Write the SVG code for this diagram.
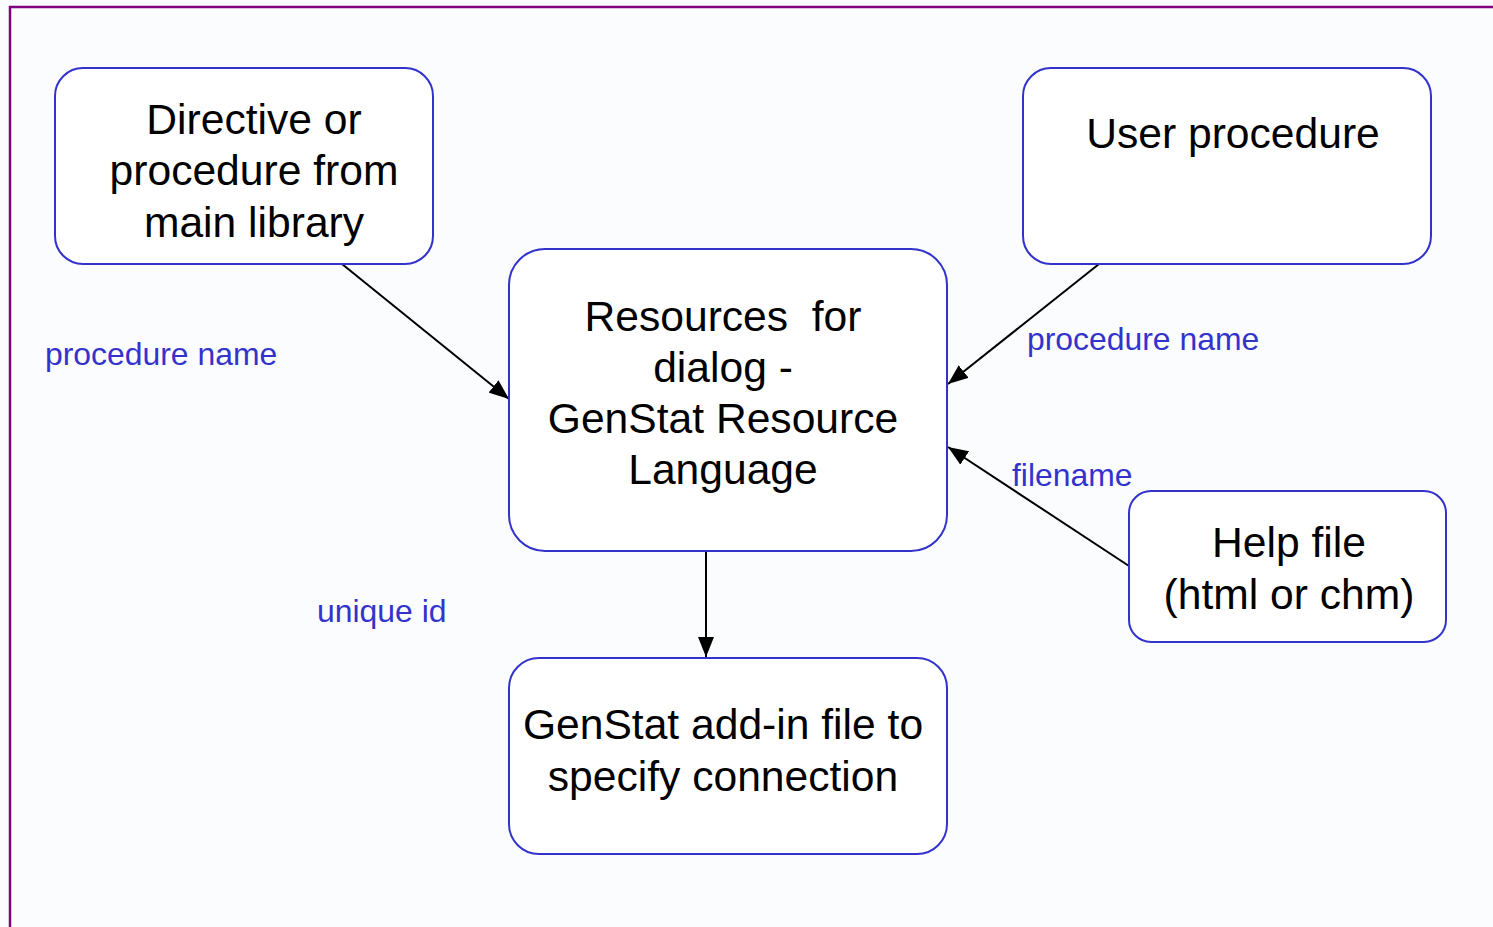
<svg xmlns="http://www.w3.org/2000/svg" width="1493" height="927" viewBox="0 0 1493 927">
<style>
.box{fill:#ffffff;stroke:#3333cc;stroke-width:2}
.t{font-family:"Liberation Sans",Arial,sans-serif;font-size:42.6px;fill:#000;text-anchor:middle}
.lbl{font-family:"Liberation Sans",Arial,sans-serif;font-size:31.9px;fill:#3333cc}
.c{stroke:#000;stroke-width:2;fill:none;marker-end:url(#ah)}
</style>
<defs>
<marker id="ah" viewBox="0 0 20 16" refX="20" refY="8" markerWidth="20" markerHeight="16" markerUnits="userSpaceOnUse" orient="auto">
<path d="M0,0 L20,8 L0,16 Z" fill="#000"/>
</marker>
</defs>
<rect x="0" y="0" width="1493" height="927" fill="#fbfcfe"/>
<path d="M10,927 L10,7 L1493,7" fill="none" stroke="#800080" stroke-width="2.5"/>
<g id="connectors">
<line class="c" x1="342" y1="264" x2="509" y2="399"/>
<line class="c" x1="1099" y1="264" x2="948" y2="384"/>
<line class="c" x1="1129" y1="566" x2="948" y2="447"/>
<line class="c" x1="706" y1="551" x2="706" y2="657"/>
</g>
<g id="n1">
<rect class="box" x="55" y="68" width="378" height="196" rx="28"/>
<text class="t" x="254" y="134">Directive or</text>
<text class="t" x="254" y="185">procedure from</text>
<text class="t" x="254" y="237">main library</text>
</g>
<g id="n2">
<rect class="box" x="1023" y="68" width="408" height="196" rx="28"/>
<text class="t" x="1233" y="148">User procedure</text>
</g>
<g id="n3">
<rect class="box" x="509" y="249" width="438" height="302" rx="36"/>
<text class="t" x="723" y="331" xml:space="preserve">Resources  for</text>
<text class="t" x="723" y="382">dialog -</text>
<text class="t" x="723" y="433">GenStat Resource</text>
<text class="t" x="723" y="484">Language</text>
</g>
<g id="n4">
<rect class="box" x="509" y="658" width="438" height="196" rx="30"/>
<text class="t" x="723" y="739">GenStat add-in file to</text>
<text class="t" x="723" y="791">specify connection</text>
</g>
<g id="n5">
<rect class="box" x="1129" y="491" width="317" height="151" rx="22"/>
<text class="t" x="1289" y="557">Help file</text>
<text class="t" x="1289" y="609">(html or chm)</text>
</g>
<g id="labels">
<text class="lbl" x="45" y="365">procedure name</text>
<text class="lbl" x="1027" y="350">procedure name</text>
<text class="lbl" x="1012" y="486">filename</text>
<text class="lbl" x="317" y="622">unique id</text>
</g>
</svg>
